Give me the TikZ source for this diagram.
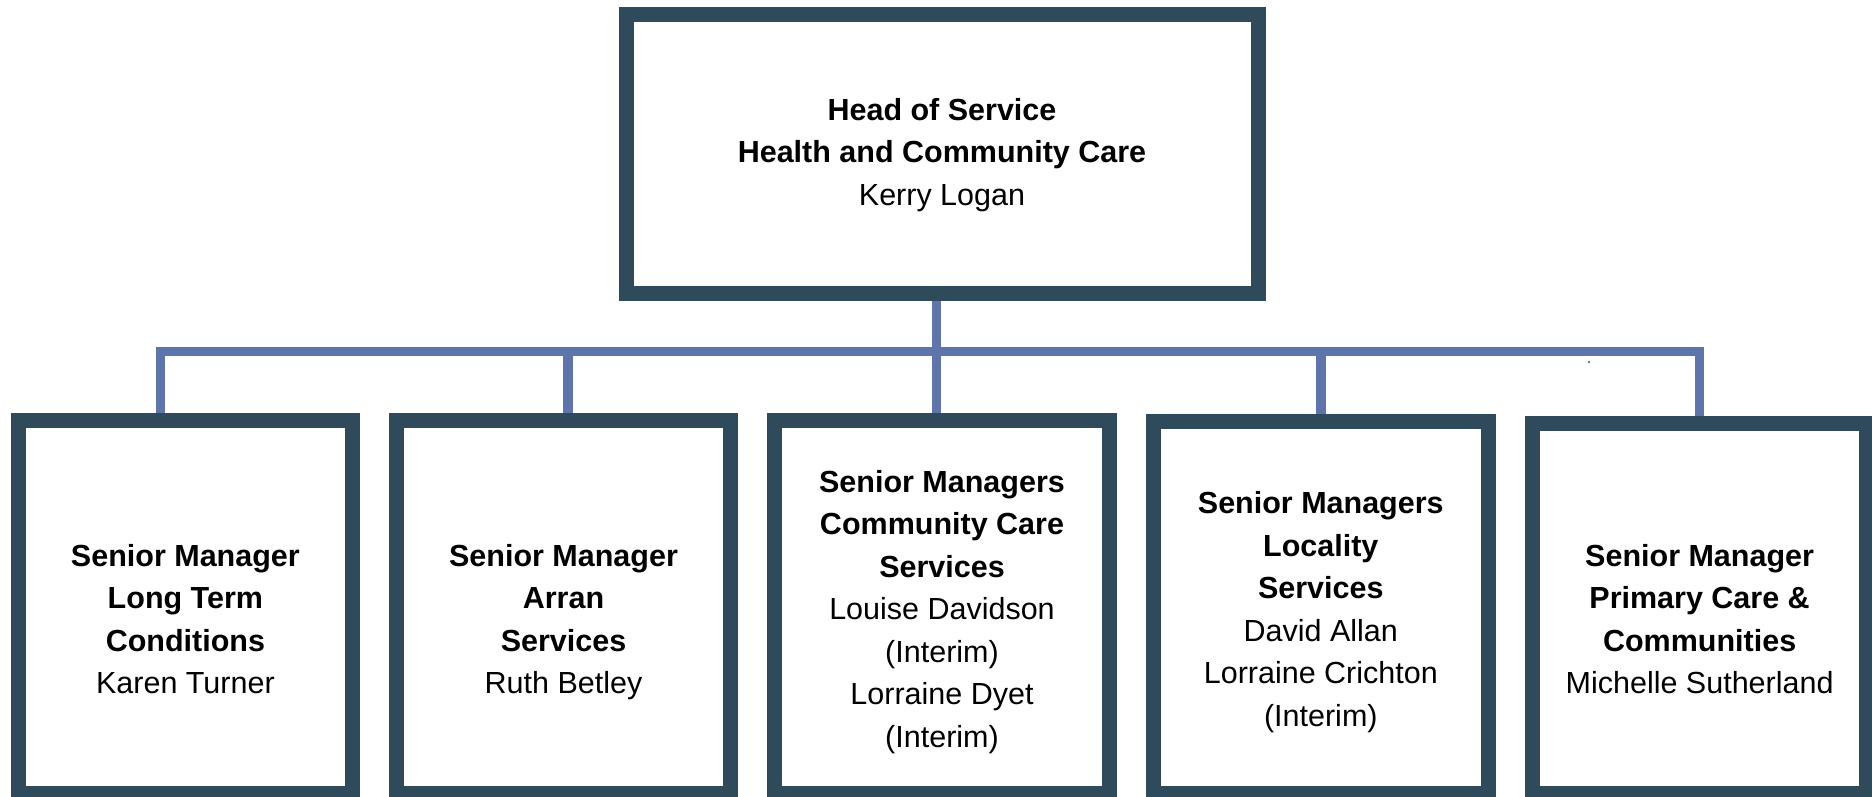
\documentclass[tikz,border=0pt]{standalone}
\usepackage{fontspec}
\setmainfont{Liberation Sans}
\pgfdeclarelayer{bg}
\pgfsetlayers{bg,main}
\definecolor{boxc}{HTML}{2E4A5B}
\definecolor{linkc}{HTML}{5D74AD}
\begin{document}
\begin{tikzpicture}[x=1pt,y=-1pt,
  box/.style={draw=boxc,line width=15pt,fill=white,rectangle,inner sep=0pt,outer sep=0pt},
  link/.style={draw=linkc,line width=9.3pt},
  lbl/.style={align=center,anchor=base,font=\fontsize{30.5}{42.5}\selectfont,inner sep=0pt}]
\useasboundingbox (0,0) rectangle (1872,797);
\clip (0,0) rectangle (1872,797);
% boxes
\node[box,minimum width=631.3pt,minimum height=278pt] (top) at (942.4,154) {};
\node[box,minimum width=334.3pt,minimum height=373.5pt] (b1) at (185.4,606.75) {};
\node[box,minimum width=334pt,minimum height=373.5pt] (b2) at (563.5,606.75) {};
\node[box,minimum width=334.3pt,minimum height=373.5pt] (b3) at (941.9,606.75) {};
\node[box,minimum width=334.8pt,minimum height=371.8pt] (b4) at (1320.8,607.6) {};
\node[box,minimum width=334pt,minimum height=370.5pt] (b5) at (1699.5,608.25) {};
% texts (anchor base = baseline of the last line)
\node[lbl] (t0) at (942,205) {\textbf{Head of Service}\\\textbf{Health and Community Care}\\Kerry Logan};
\node[lbl] (t1) at (185.4,693.6) {\textbf{Senior Manager}\\\textbf{Long Term}\\\textbf{Conditions}\\Karen Turner};
\node[lbl] (t2) at (563.5,693.6) {\textbf{Senior Manager}\\\textbf{Arran}\\\textbf{Services}\\Ruth Betley};
\node[lbl] (t3) at (942,747.4) {\textbf{Senior Managers}\\\textbf{Community Care}\\\textbf{Services}\\Louise Davidson\\(Interim)\\Lorraine Dyet\\(Interim)};
\node[lbl] (t4) at (1320.8,726.4) {\textbf{Senior Managers}\\\textbf{Locality}\\\textbf{Services}\\David Allan\\Lorraine Crichton\\(Interim)};
\node[lbl] (t5) at (1699.6,693.6) {\textbf{Senior Manager}\\\textbf{Primary Care \&}\\\textbf{Communities}\\Michelle Sutherland};
% connectors
\coordinate (j1) at (160.5,351.3);
\coordinate (j2) at (568,351.3);
\coordinate (j3) at (936.3,351.3);
\coordinate (j4) at (1321,351.3);
\coordinate (j5) at (1699.5,351.3);
\begin{pgfonlayer}{bg}
\draw[link,line join=miter] (j1 |- b1.north) -- (j1) -- (j5) -- (j5 |- b5.north);
\draw[link] (j3 |- top.south) -- (j3 |- b3.north);
\draw[link] (j2) -- (j2 |- b2.north);
\draw[link] (j4) -- (j4 |- b4.north);
\end{pgfonlayer}
\fill[boxc] (1589,362) circle (1.2pt);
\end{tikzpicture}
\end{document}
